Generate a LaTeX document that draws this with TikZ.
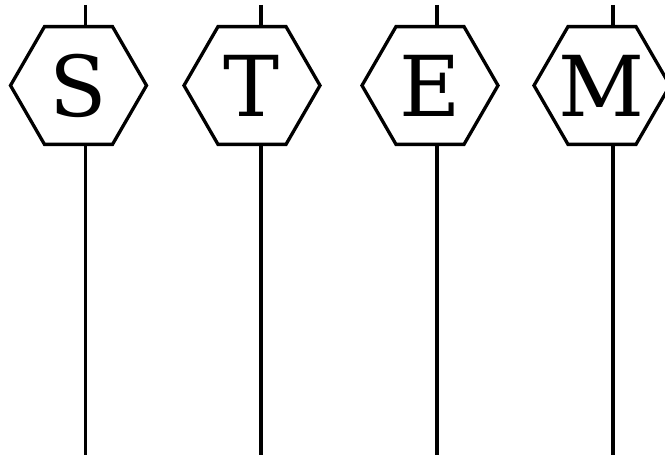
\documentclass[tikz,border=0pt]{standalone}
\usepackage{fontspec}
\setmainfont{DejaVu Serif}
\usetikzlibrary{shapes.geometric}

\newcommand{\hexchar}[1]{\makebox[0pt]{#1}}

\tikzset{
    letterhex/.style={regular polygon,regular polygon sides=6,draw,line width=3.3pt,
        fill=white,minimum size=136pt,inner sep=0pt,font=\fontsize{84}{90}\selectfont},
    stem/.style={line width=3.3pt}
}

\begin{document}
\begin{tikzpicture}[x=1pt,y=1pt]
    \useasboundingbox (0,0) rectangle (665,457);

    % Stems
    \coordinate (sTop) at (85.5,452);
    \coordinate (sBot) at (85.5,2);
    \coordinate (tTop) at (261,452);
    \coordinate (tBot) at (261,2);
    \coordinate (eTop) at (437,452);
    \coordinate (eBot) at (437,2);
    \coordinate (mTop) at (613,452);
    \coordinate (mBot) at (613,2);
    \draw[stem] (sTop) -- (sBot);
    \draw[stem] (tTop) -- (tBot);
    \draw[stem] (eTop) -- (eBot);
    \draw[stem] (mTop) -- (mBot);

    % Letters
    \node[letterhex] (s) at (78.5,371.5) {\hexchar{S}};
    \node[letterhex] (t) at (252,371.5) {\hexchar{T}};
    \node[letterhex] (e) at (430,371.5) {\hexchar{E}};
    \node[letterhex] (m) at (602,371.5) {\hexchar{M}};
\end{tikzpicture}
\end{document}
